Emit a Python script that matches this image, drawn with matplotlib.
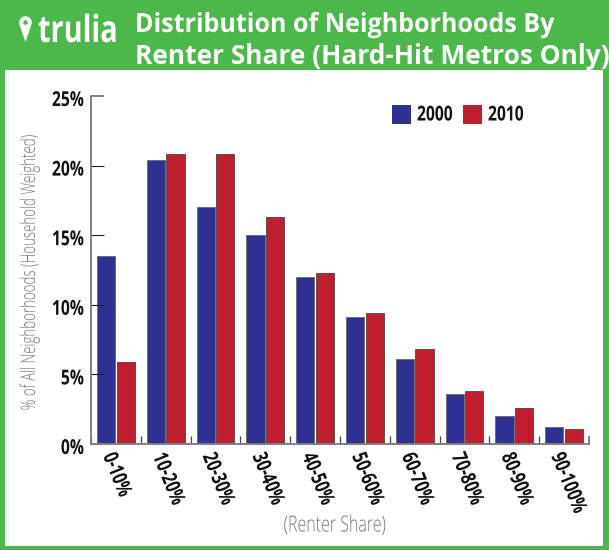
import matplotlib
matplotlib.use("Agg")
import matplotlib.pyplot as plt
import numpy as np
from matplotlib.patches import Rectangle, Circle, Polygon
from matplotlib.patheffects import AbstractPathEffect
from matplotlib.transforms import Affine2D, ScaledTranslation

W, H = 609, 550

categories = ["0-10%", "10-20%", "20-30%", "30-40%", "40-50%",
              "50-60%", "60-70%", "70-80%", "80-90%", "90-100%"]
values_2000 = [13.5, 20.4, 17.0, 15.0, 12.0, 9.1, 6.1, 3.6, 2.0, 1.2]
values_2010 = [5.9, 20.8, 20.8, 16.3, 12.3, 9.4, 6.8, 3.8, 2.6, 1.1]
y_ticks = [0, 5, 10, 15, 20, 25]
y_labels = ["0%", "5%", "10%", "15%", "20%", "25%"]

GREEN = "#4CB84B"
BLUE = "#2E3192"
RED = "#BE1E2D"
GREY = "#808080"
FONT = "Open Sans"


class Condense(AbstractPathEffect):
    # no condensed font installed, so squeeze the glyphs sideways
    def __init__(self, sx, align=0.0):
        super().__init__()
        self.sx = sx
        self.align = align

    def draw_path(self, renderer, gc, tpath, affine, rgbFace=None):
        w = tpath.get_extents().x1 * self.align
        squeeze = Affine2D().translate(-w, 0).scale(self.sx, 1).translate(w, 0)
        renderer.draw_path(gc, tpath, squeeze + affine, rgbFace)


fig = plt.figure(figsize=(W / 100, H / 100), dpi=100, facecolor=GREEN)


def fx(x):
    return x / W


def fy(y):
    return 1 - y / H


# white panel
panel = Rectangle((fx(5), fy(546)), fx(598), 476 / H, transform=fig.transFigure,
                  facecolor="white", edgecolor="none", zorder=-5)
fig.add_artist(panel)

# header
t1 = fig.text(fx(135), fy(24.5), "Distribution of Neighborhoods By", color="white", fontsize=19,
              fontweight="bold", family=FONT, va="center", ha="left")
t2 = fig.text(fx(135), fy(56), "Renter Share (Hard-Hit Metros Only)", color="white", fontsize=19,
              fontweight="bold", family=FONT, va="center", ha="left")
t1.set_path_effects([Condense(0.95)])
logo = fig.text(fx(38), fy(32), "trulia", color="white", fontsize=27, fontweight="bold",
                family=FONT, va="center", ha="left")
logo.set_path_effects([Condense(0.77)])

# overlay in pixel coords for the pin and legend
over = fig.add_axes([0, 0, 1, 1], facecolor="none", zorder=3)
over.set_xlim(0, W)
over.set_ylim(H, 0)
over.axis("off")
over.add_patch(Circle((25.5, 22.5), 6.3, facecolor="white", edgecolor="none"))
over.add_patch(Polygon([[19.6, 25], [31.4, 25], [25.5, 42]], facecolor="white", edgecolor="none"))
over.add_patch(Circle((25.5, 22.5), 2.3, facecolor=GREEN, edgecolor="none"))

# plot area
left, right, top, bottom = 91, 589, 96, 444
ax = fig.add_axes([fx(left), fy(bottom), (right - left) / W, (bottom - top) / H], facecolor="none")

x = np.arange(len(categories))
bar_w = 0.367
ax.bar(x - 0.198, values_2000, bar_w, color=BLUE, edgecolor="#6f6f78", linewidth=0.7, label="2000")
ax.bar(x + 0.198, values_2010, bar_w, color=RED, edgecolor="#6a4a4a", linewidth=0.7, label="2010")

ax.set_xlim(-0.5, 9.5)
ax.set_ylim(0, 25)

for s in ["top", "right"]:
    ax.spines[s].set_visible(False)
for s in ["left", "bottom"]:
    ax.spines[s].set_color(GREY)
    ax.spines[s].set_linewidth(1.4)

ax.set_yticks(y_ticks)
ax.set_yticklabels(y_labels, fontsize=14.8, fontweight="bold", family=FONT, color="#111111")
ax.tick_params(axis="y", direction="in", length=9.5, width=0.8, color="#222222", pad=5)
ax.yaxis.get_major_ticks()[-1].tick1line.set_markeredgecolor(GREY)
ax.yaxis.get_major_ticks()[-1].tick1line.set_markeredgewidth(1.4)
ydrop = ScaledTranslation(0, -2 / 100, fig.dpi_scale_trans)
for lab in ax.get_yticklabels():
    lab.set_path_effects([Condense(0.76, 1.0)])
    lab.set_transform(lab.get_transform() + ydrop)

ax.set_xticks(np.arange(-0.5, 10, 1))
ax.set_xticklabels([])
ax.tick_params(axis="x", direction="in", length=6, width=0.9, color="#444444")
ax.xaxis.get_major_ticks()[-1].tick1line.set_markeredgecolor(GREY)
ax.xaxis.get_major_ticks()[-1].tick1line.set_markeredgewidth(1.4)
ax.set_xticks(x, minor=True)
ax.set_xticklabels(categories, minor=True, rotation=-68, fontsize=15, fontweight="bold",
                   family=FONT, color="#111111", ha="left", va="center", rotation_mode="anchor")
ax.tick_params(axis="x", which="minor", length=0, pad=7)
shift = ScaledTranslation(-8 / 100, 0, fig.dpi_scale_trans)
for lab in ax.get_xticklabels(minor=True):
    lab.set_path_effects([Condense(0.745)])
    lab.set_transform(lab.get_transform() + shift)

ylab = fig.text(fx(30), fy(273), "% of All Neighborhoods (Household Weighted)", rotation=90,
                color="#777777", fontsize=14.5, family=FONT, fontweight="light", va="center",
                ha="center", rotation_mode="anchor")
ylab.set_path_effects([Condense(0.66, 0.5)])
xlab = fig.text(fx(335), fy(526), "(Renter Share)", color="#777777", fontsize=16, family=FONT,
                fontweight="light", va="center", ha="center")
xlab.set_path_effects([Condense(0.72, 0.5)])

# legend
for lx, col, lab in [(392, BLUE, "2000"), (463, RED, "2010")]:
    over.add_patch(Rectangle((lx, 105), 19, 19, facecolor=col, edgecolor="none"))
    t = over.text(lx + 25, 115, lab, fontsize=14.8, fontweight="bold", family=FONT,
                  color="#111111", va="center", ha="left")
    t.set_path_effects([Condense(0.76)])

fig.savefig("out.png", dpi=100, facecolor=GREEN)
